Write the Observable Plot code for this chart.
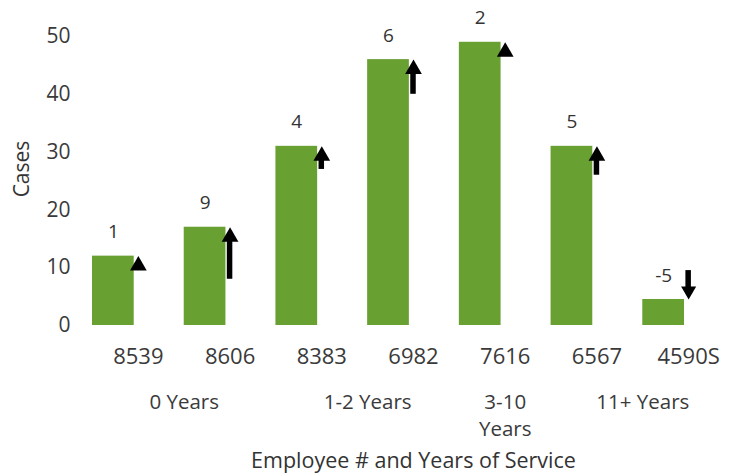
<!DOCTYPE html>
<html>
<head>
<meta charset="utf-8">
<script src="https://cdn.jsdelivr.net/npm/d3@7"></script>
<script src="https://cdn.jsdelivr.net/npm/@observablehq/plot@0.6"></script>
<style>
  html, body { margin: 0; padding: 0; background: #fff; }
  #chart svg { display: block; }
</style>
</head>
<body>
<div id="chart"></div>
<script>
// ---- data ----
const employees = ["8539", "8606", "8383", "6982", "7616", "6567", "4590S"];
const cases     = [12, 17, 31, 46, 49, 31, 4.5];
const changes   = [1, 9, 4, 6, 2, 5, -5];
const yTicks    = [0, 10, 20, 30, 40, 50];
const groupNames = ["0 Years", "1-2 Years", "3-10\nYears", "11+ Years"];
const groupFirst = [0, 2, 4, 5];
const groupLast  = [1, 3, 4, 6];
const yLabel = "Cases";
const xLabel = "Employee # and Years of Service";

// ---- derived tables ----
const data = employees.map((e, i) => ({i, employee: e, cases: cases[i], change: changes[i]}));
const up = data.filter(d => d.change >= 0);
const down = data.filter(d => d.change < 0);
const groups = groupNames.map((g, k) => ({name: g, mid: (groupFirst[k] + groupLast[k]) / 2}));

const green = "#68a032";
const font = "'Open Sans', sans-serif";

const chart = Plot.plot({
  width: 735,
  height: 475,
  marginTop: 36,
  marginBottom: 150,
  marginLeft: 92,
  marginRight: 1,
  style: {fontFamily: font, fontSize: "21px", color: "#3a3a3a", background: "#fff"},
  x: {domain: [-0.5, employees.length - 0.5], axis: null},
  y: {domain: [0, 50], axis: null},
  marks: [
    Plot.axisY({ticks: yTicks, tickSize: 0, tickPadding: 22, label: null, fontSize: 21, fill: "#3a3a3a"}),
    Plot.axisX({ticks: d3.range(employees.length), tickFormat: i => employees[i], tickSize: 0, tickPadding: 23, label: null, fontSize: 22, fill: "#3a3a3a"}),
    // bars (left part of each category)
    Plot.rect(data, {x1: d => d.i - 0.5, x2: d => d.i + 0.5, y1: 0, y2: "cases", insetRight: 50, fill: green}),
    // arrow shafts
    Plot.rect(up, {x1: "i", x2: "i", y1: d => d.cases - d.change, y2: "cases", insetLeft: -2.75, insetRight: -2.75, insetTop: 9, fill: "#000"}),
    Plot.rect(down, {x1: "i", x2: "i", y1: d => d.cases - d.change, y2: "cases", insetLeft: -2.75, insetRight: -2.75, insetBottom: 9, fill: "#000"}),
    // arrow heads
    Plot.dot(up, {x: "i", y: "cases", symbol: "triangle", r: 6.2, fill: "#000", dy: 9.6}),
    Plot.dot(down, {x: "i", y: "cases", symbol: "triangle", r: 5.6, rotate: 180, fill: "#000", dy: -8.7}),
    // change labels above bars
    Plot.text(data, {x: "i", y: "cases", text: d => String(d.change), dx: -25, dy: -24, fontSize: 19, fill: "#333"}),
    // group labels
    Plot.text(groups, {x: "mid", text: "name", frameAnchor: "bottom", textAnchor: "middle", lineAnchor: "top", lineHeight: 1.3, dy: 65, fontSize: 20.5, fill: "#3a3a3a"}),
    // axis titles
    Plot.text([xLabel], {frameAnchor: "bottom", textAnchor: "middle", lineAnchor: "middle", text: d => d, dy: 136, fontSize: 21.5, fill: "#333"}),
    Plot.text([yLabel], {frameAnchor: "left", textAnchor: "middle", lineAnchor: "middle", text: d => d, rotate: -90, dx: -70, dy: -12, fontSize: 21, fill: "#333"})
  ]
});
document.getElementById("chart").appendChild(chart);
</script>
</body>
</html>
